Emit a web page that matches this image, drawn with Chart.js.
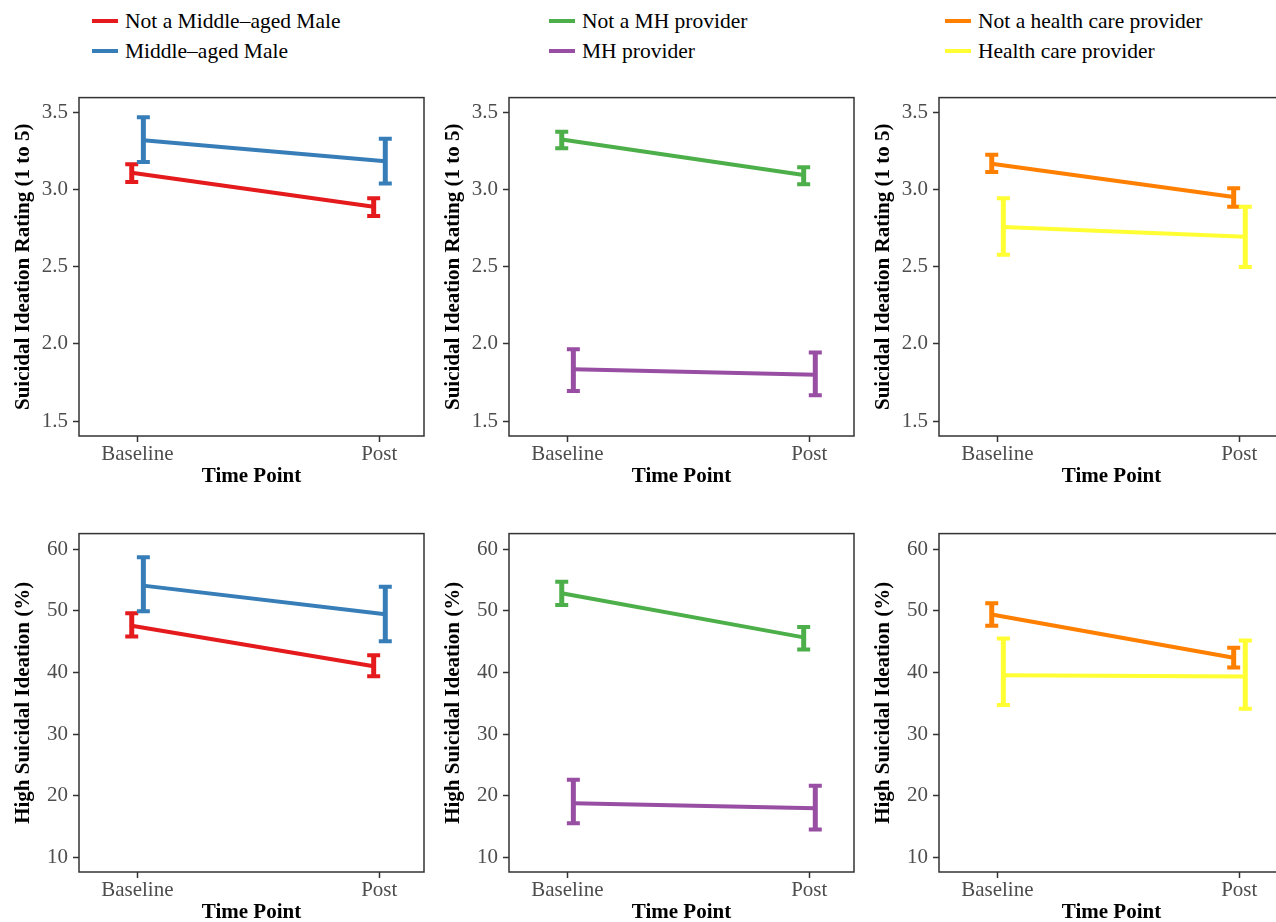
<!DOCTYPE html>
<html>
<head>
<meta charset="utf-8">
<script src="https://cdn.jsdelivr.net/npm/chart.js@4.4.1/dist/chart.umd.min.js"></script>
<style>
  html, body { margin: 0; padding: 0; background: #fff; overflow: hidden; width: 1276px; height: 922px; }
  .panel { position: absolute; }
  .legend { position: absolute; top: 6px; font-family: "Liberation Serif", "Times New Roman", serif; font-size: 21.5px; color: #000; }
  .legend .row { height: 30px; display: flex; align-items: center; white-space: nowrap; }
  .legend .swatch { width: 26px; height: 4px; margin-right: 7px; }
</style>
</head>
<body>
<div id="legendAge" class="legend" style="left:92px"></div>
<div id="legendMh" class="legend" style="left:549px"></div>
<div id="legendHcp" class="legend" style="left:945px"></div>

<canvas id="c1" class="panel" width="430" height="420" style="left:0;top:80px"></canvas>
<canvas id="c2" class="panel" width="430" height="420" style="left:430px;top:80px"></canvas>
<canvas id="c3" class="panel" width="430" height="420" style="left:860px;top:80px"></canvas>
<canvas id="c4" class="panel" width="430" height="420" style="left:0;top:516px"></canvas>
<canvas id="c5" class="panel" width="430" height="420" style="left:430px;top:516px"></canvas>
<canvas id="c6" class="panel" width="430" height="420" style="left:860px;top:516px"></canvas>

<script>
// ---- data ----
const timePoints = ['Baseline', 'Post'];
const ratingTicks = [1.5, 2.0, 2.5, 3.0, 3.5];
const pctTicks = [10, 20, 30, 40, 50, 60];

const ageGroups = ['Not a Middle–aged Male', 'Middle–aged Male'];
const mhGroups = ['Not a MH provider', 'MH provider'];
const hcpGroups = ['Not a health care provider', 'Health care provider'];

// [group][time point]
const ratingAgeMean = [[3.11, 2.89], [3.32, 3.185]];
const ratingAgeLow  = [[3.05, 2.83], [3.18, 3.04]];
const ratingAgeHigh = [[3.165, 2.945], [3.47, 3.33]];

const ratingMhMean = [[3.325, 3.095], [1.835, 1.80]];
const ratingMhLow  = [[3.268, 3.035], [1.695, 1.668]];
const ratingMhHigh = [[3.375, 3.145], [1.965, 1.944]];

const ratingHcpMean = [[3.168, 2.952], [2.758, 2.695]];
const ratingHcpLow  = [[3.114, 2.89], [2.578, 2.498]];
const ratingHcpHigh = [[3.227, 3.009], [2.945, 2.89]];

const pctAgeMean = [[47.6, 41.0], [54.1, 49.45]];
const pctAgeLow  = [[45.85, 39.4], [49.95, 45.05]];
const pctAgeHigh = [[49.6, 42.8], [58.7, 53.9]];

const pctMhMean = [[52.85, 45.7], [18.75, 17.95]];
const pctMhLow  = [[50.95, 43.75], [15.5, 14.5]];
const pctMhHigh = [[54.75, 47.4], [22.6, 21.6]];

const pctHcpMean = [[49.4, 42.4], [39.55, 39.35]];
const pctHcpLow  = [[47.6, 40.8], [34.7, 34.1]];
const pctHcpHigh = [[51.25, 44.0], [45.5, 45.2]];

// ---- styling ----
const ageColors = ['#E41A1C', '#377EB8'];
const mhColors = ['#4DAF4A', '#984EA3'];
const hcpColors = ['#FF7F00', '#FFFF33'];
const dodge = [-0.023, 0.025];
const serif = '"Liberation Serif", "Times New Roman", serif';

function buildLegend(id, groups, colors) {
  const box = document.getElementById(id);
  groups.forEach((g, i) => {
    const row = document.createElement('div');
    row.className = 'row';
    row.innerHTML = `<span class="swatch" style="background:${colors[i]}"></span><span>${g}</span>`;
    box.appendChild(row);
  });
}
buildLegend('legendAge', ageGroups, ageColors);
buildLegend('legendMh', mhGroups, mhColors);
buildLegend('legendHcp', hcpGroups, hcpColors);

// error bars with caps
const errorBars = {
  id: 'errorBars',
  afterDatasetsDraw(chart) {
    const { ctx, scales: { x, y } } = chart;
    ctx.save();
    ctx.lineCap = 'butt';
    chart.data.datasets.forEach(ds => {
      ctx.strokeStyle = ds.borderColor;
      ds.data.forEach((pt, i) => {
        const px = x.getPixelForValue(pt.x);
        const y0 = y.getPixelForValue(ds.low[i]);
        const y1 = y.getPixelForValue(ds.high[i]);
        ctx.lineWidth = 5;
        ctx.beginPath();
        ctx.moveTo(px, y0); ctx.lineTo(px, y1);
        ctx.stroke();
        ctx.lineWidth = 4;
        ctx.beginPath();
        ctx.moveTo(px - 6.5, y0); ctx.lineTo(px + 6.5, y0);
        ctx.moveTo(px - 6.5, y1); ctx.lineTo(px + 6.5, y1);
        ctx.stroke();
      });
    });
    ctx.restore();
  }
};

// panel border
const frame = {
  id: 'frame',
  afterDraw(chart) {
    const { ctx, chartArea: a } = chart;
    ctx.save();
    ctx.strokeStyle = '#333';
    ctx.lineWidth = 1.5;
    ctx.strokeRect(a.left, a.top, a.right - a.left, a.bottom - a.top);
    ctx.restore();
  }
};

function makePanel(id, groups, colors, mean, low, high, isRating) {
  const yTicks = isRating ? ratingTicks : pctTicks;
  new Chart(document.getElementById(id), {
    type: 'line',
    data: {
      datasets: groups.map((g, s) => ({
        label: g,
        data: mean[s].map((v, i) => ({ x: i + 1 + dodge[s], y: v })),
        low: low[s],
        high: high[s],
        borderColor: colors[s],
        borderWidth: 4,
        pointRadius: 0,
        tension: 0,
        fill: false
      }))
    },
    options: {
      responsive: false,
      animation: false,
      devicePixelRatio: 1,
      layout: { padding: { left: 0, right: 6, top: 11, bottom: 0 } },
      plugins: { legend: { display: false }, tooltip: { enabled: false } },
      scales: {
        x: {
          type: 'linear', min: 0.759, max: 2.185,
          afterBuildTicks: s => { s.ticks = timePoints.map((_, i) => ({ value: i + 1 })); },
          afterFit: s => { s.height = 64; },
          ticks: { autoSkip: false, maxRotation: 0, padding: 0, color: '#4d4d4d',
                   font: { family: serif, size: 21 }, callback: v => timePoints[v - 1] },
          grid: { drawOnChartArea: false, drawTicks: true, tickLength: 6, tickWidth: 1.5, tickColor: '#333' },
          border: { display: false },
          title: { display: true, text: 'Time Point', color: '#000',
                   font: { family: serif, size: 21, weight: 'bold' }, padding: { top: 0, bottom: 11 } }
        },
        y: {
          type: 'linear',
          min: isRating ? 1.403 : 7.6,
          max: isRating ? 3.597 : 62.55,
          afterBuildTicks: s => { s.ticks = yTicks.map(v => ({ value: v })); },
          afterFit: s => { s.width = 79; },
          ticks: { autoSkip: false, padding: 5, color: '#4d4d4d',
                   font: { family: serif, size: 21 },
                   callback: v => isRating ? v.toFixed(1) : String(v) },
          grid: { drawOnChartArea: false, drawTicks: true, tickLength: 6, tickWidth: 1.5, tickColor: '#333' },
          border: { display: false },
          title: { display: true, text: isRating ? 'Suicidal Ideation Rating (1 to 5)' : 'High Suicidal Ideation (%)',
                   color: '#000', font: { family: serif, size: 21, weight: 'bold' }, padding: { top: 11, bottom: 0 } }
        }
      }
    },
    plugins: [errorBars, frame]
  });
}

makePanel('c1', ageGroups, ageColors, ratingAgeMean, ratingAgeLow, ratingAgeHigh, true);
makePanel('c2', mhGroups, mhColors, ratingMhMean, ratingMhLow, ratingMhHigh, true);
makePanel('c3', hcpGroups, hcpColors, ratingHcpMean, ratingHcpLow, ratingHcpHigh, true);
makePanel('c4', ageGroups, ageColors, pctAgeMean, pctAgeLow, pctAgeHigh, false);
makePanel('c5', mhGroups, mhColors, pctMhMean, pctMhLow, pctMhHigh, false);
makePanel('c6', hcpGroups, hcpColors, pctHcpMean, pctHcpLow, pctHcpHigh, false);
</script>
</body>
</html>
